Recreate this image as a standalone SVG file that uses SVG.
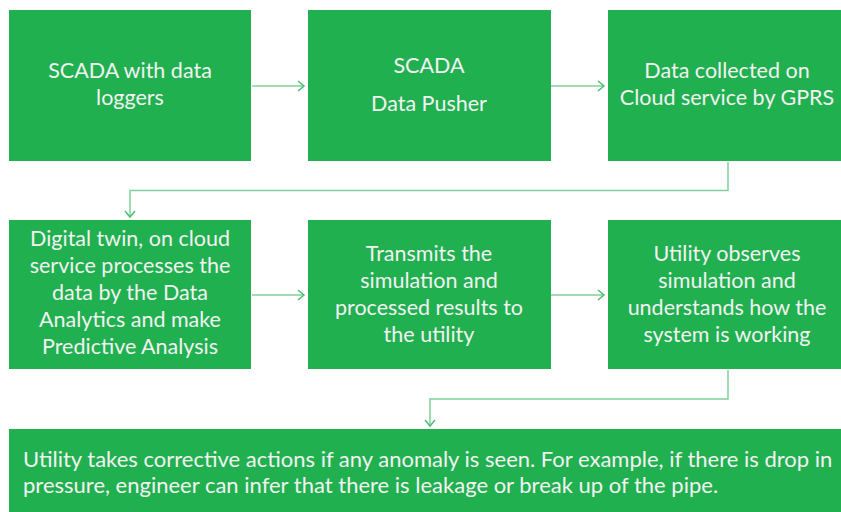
<svg xmlns="http://www.w3.org/2000/svg" width="841" height="512" viewBox="0 0 841 512">
<style>
.box{fill:#21b050}
.t{font-family:Lato,"Open Sans","Liberation Sans",sans-serif;font-size:21.5px;fill:#f2f2f2;text-anchor:middle}
.tb{font-family:Lato,"Open Sans","Liberation Sans",sans-serif;font-size:22px;fill:#f2f2f2}
.c{fill:none;stroke:#80cf9a;stroke-width:1.5}
</style>
<defs>
<marker id="ah" markerWidth="12" markerHeight="12" refX="9" refY="6" orient="auto" markerUnits="userSpaceOnUse">
<path d="M3,1 L9,6 L3,11" fill="none" stroke="#4dbd72" stroke-width="1.5"/>
</marker>
</defs>
<rect width="841" height="512" fill="#ffffff"/>
<g id="connectors">
<line class="c" x1="252" y1="86" x2="304" y2="86" marker-end="url(#ah)"/>
<line class="c" x1="551" y1="86" x2="604" y2="86" marker-end="url(#ah)"/>
<path class="c" d="M728,162 V190.5 H130 V217" marker-end="url(#ah)"/>
<line class="c" x1="252" y1="295" x2="304" y2="295" marker-end="url(#ah)"/>
<line class="c" x1="551" y1="295" x2="604" y2="295" marker-end="url(#ah)"/>
<path class="c" d="M728,370 V399 H430 V426" marker-end="url(#ah)"/>
</g>
<g id="n1"><rect class="box" x="9" y="10" width="242" height="151"/>
<text class="t" x="130" y="78">SCADA with data</text><text class="t" x="130" y="105">loggers</text></g>
<g id="n2"><rect class="box" x="308" y="10" width="243" height="151"/>
<text class="t" x="429" y="73">SCADA</text><text class="t" x="429" y="111">Data Pusher</text></g>
<g id="n3"><rect class="box" x="608" y="10" width="233" height="151"/>
<text class="t" x="727" y="78">Data collected on</text><text class="t" x="727" y="105">Cloud service by GPRS</text></g>
<g id="n4"><rect class="box" x="9" y="220" width="242" height="149"/>
<text class="t" x="130" y="246">Digital twin, on cloud</text><text class="t" x="130" y="273">service processes the</text><text class="t" x="130" y="300">data by the Data</text><text class="t" x="130" y="327">Analytics and make</text><text class="t" x="130" y="354">Predictive Analysis</text></g>
<g id="n5"><rect class="box" x="308" y="220" width="243" height="149"/>
<text class="t" x="429" y="261">Transmits the</text><text class="t" x="429" y="288">simulation and</text><text class="t" x="429" y="315">processed results to</text><text class="t" x="429" y="342">the utility</text></g>
<g id="n6"><rect class="box" x="608" y="220" width="233" height="149"/>
<text class="t" x="727" y="261">Utility observes</text><text class="t" x="727" y="288">simulation and</text><text class="t" x="727" y="315">understands how the</text><text class="t" x="727" y="342">system is working</text></g>
<g id="n7"><rect class="box" x="9" y="429" width="832" height="83"/>
<text class="tb" x="23" y="467">Utility takes corrective actions if any anomaly is seen. For example, if there is drop in</text>
<text class="tb" x="23" y="493">pressure, engineer can infer that there is leakage or break up of the pipe.</text></g>
</svg>
